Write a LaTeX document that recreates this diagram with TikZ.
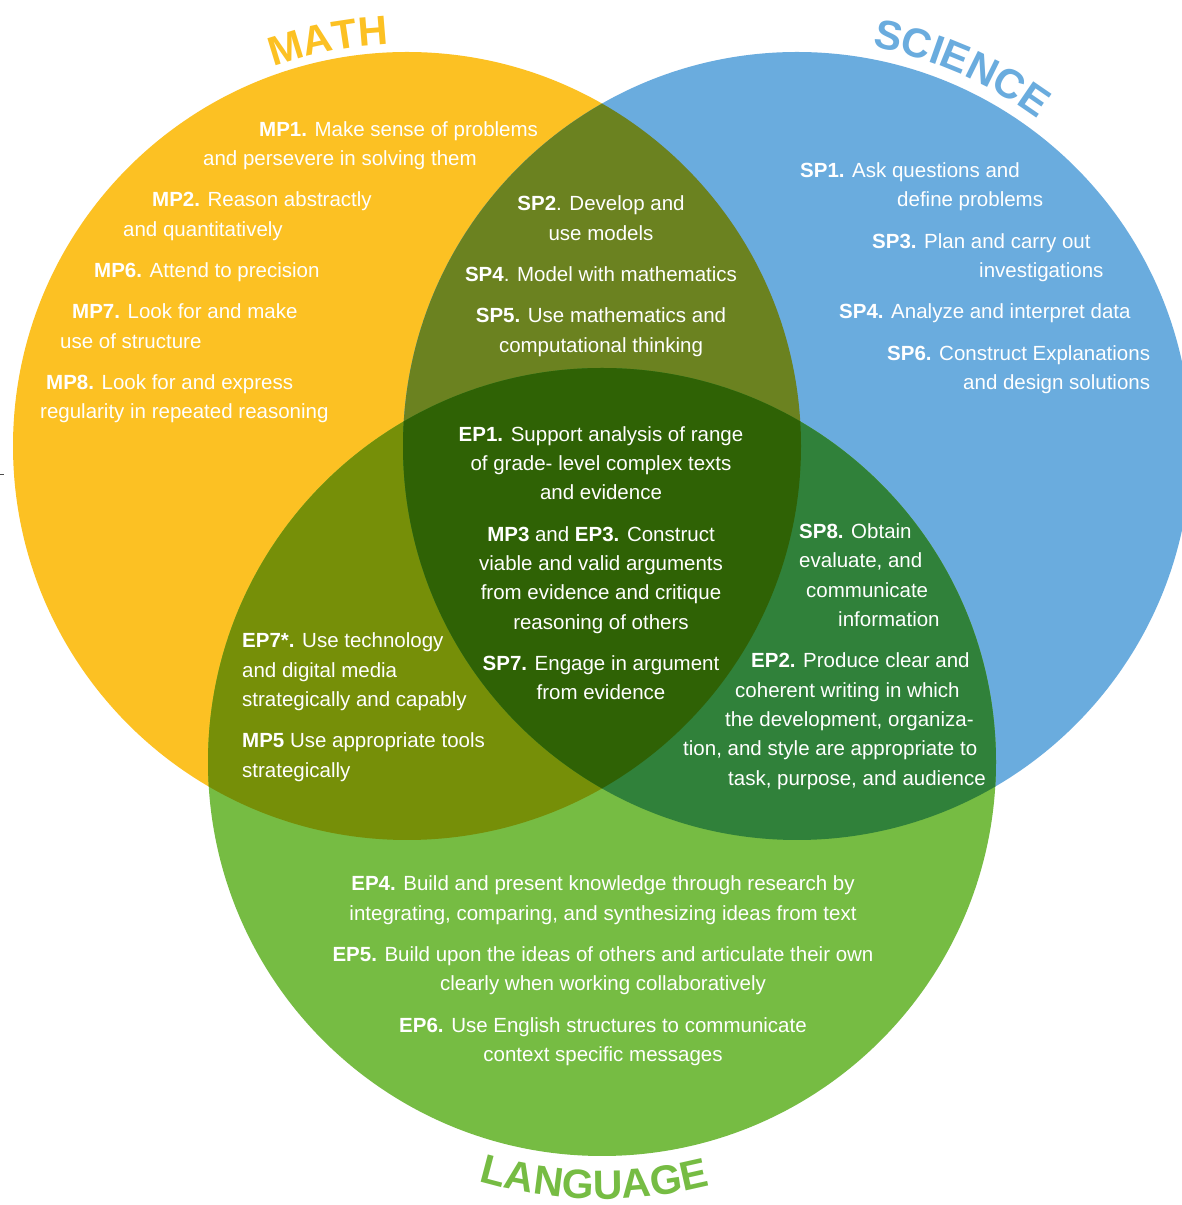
\documentclass[tikz,border=0pt]{standalone}
\usepackage{fontspec}
\setmainfont{Liberation Sans}
\usetikzlibrary{calc,decorations.text}
\definecolor{mathc}{HTML}{FCC123}
\definecolor{scic}{HTML}{6AACDE}
\definecolor{langc}{HTML}{76BC43}
\definecolor{msc}{HTML}{6B8220}
\definecolor{mlc}{HTML}{768F08}
\definecolor{slc}{HTML}{30813A}
\definecolor{mslc}{HTML}{2F6205}
\newcommand\vbody{\fontsize{20.5}{24}\selectfont}
\newcommand\vtitle{\fontsize{41}{41}\selectfont\bfseries}
\begin{document}
\begin{tikzpicture}[x=1pt,y=1pt,
  txt/.style={text=white,font=\vbody,inner sep=0pt},
  lft/.style={txt,anchor=base west},
  ctr/.style={txt,anchor=base}]
\clip (0,0) rectangle (1182,1205);
\fill[white] (0,0) rectangle (1182,1205);
\coordinate (mc) at (407,759);
\coordinate (sc) at (797,759);
\coordinate (lc) at (602,443);
\fill[mathc] (mc) circle[radius=394pt];
\fill[scic] (sc) circle[radius=394pt];
\fill[langc] (lc) circle[radius=394pt];
\begin{scope}
  \clip (mc) circle[radius=394pt];
  \fill[msc] (sc) circle[radius=394pt];
  \fill[mlc] (lc) circle[radius=394pt];
\end{scope}
\begin{scope}
  \clip (sc) circle[radius=394pt];
  \fill[slc] (lc) circle[radius=394pt];
\end{scope}
\begin{scope}
  \clip (mc) circle[radius=394pt];
  \clip (sc) circle[radius=394pt];
  \fill[mslc] (lc) circle[radius=394pt];
\end{scope}
\draw[black!70,line width=1pt] (0,730) -- (4,730);
% titles
\path[decorate,decoration={text along path,text align=center,text={|\vtitle\color{mathc}|MATH}}]
  ($(mc)+(125:402pt)$) arc[start angle=125,end angle=77,radius=402pt];
\path[decorate,decoration={text along path,text align=center,text={|\vtitle\color{scic}|SCIENCE}}]
  ($(sc)+(95:406pt)$) arc[start angle=95,end angle=38,radius=406pt];
\path[decorate,decoration={text along path,text align=center,text={|\vtitle\color{langc}|LANGUAGE}}]
  ($(lc)+(240:437pt)$) arc[start angle=240,end angle=298,radius=437pt];
% math
\node[lft] (m1) at (259,1068) {\textbf{MP1.} Make sense of problems};
\node[lft] (m2) at (203,1039) {and persevere in solving them};
\node[lft] (m3) at (152,998) {\textbf{MP2.} Reason abstractly};
\node[lft] (m4) at (123,968) {and quantitatively};
\node[lft] (m5) at (94,927) {\textbf{MP6.} Attend to precision};
\node[lft] (m6) at (72,886) {\textbf{MP7.} Look for and make};
\node[lft] (m7) at (60,856) {use of structure};
\node[lft] (m8) at (46,815) {\textbf{MP8.} Look for and express};
\node[lft] (m9) at (40,786) {regularity in repeated reasoning};
% math & science
\node[ctr] (ms1) at (601,994) {\textbf{SP2}. Develop and};
\node[ctr] (ms2) at (601,964) {use models};
\node[ctr] (ms3) at (601,923) {\textbf{SP4}. Model with mathematics};
\node[ctr] (ms4) at (601,882) {\textbf{SP5.} Use mathematics and};
\node[ctr] (ms5) at (601,852) {computational thinking};
% science
\node[lft] (s1) at (800,1027) {\textbf{SP1.} Ask questions and};
\node[lft] (s2) at (897,998) {define problems};
\node[lft] (s3) at (872,956) {\textbf{SP3.} Plan and carry out};
\node[lft] (s4) at (979,927) {investigations};
\node[lft] (s5) at (839,886) {\textbf{SP4.} Analyze and interpret data};
\node[lft] (s6) at (887,844) {\textbf{SP6.} Construct Explanations};
\node[lft] (s7) at (963,815) {and design solutions};
% centre
\node[ctr] (c1) at (601,763) {\textbf{EP1.} Support analysis of range};
\node[ctr] (c2) at (601,734) {of grade- level complex texts};
\node[ctr] (c3) at (601,705) {and evidence};
\node[ctr] (c4) at (601,663) {\textbf{MP3} and \textbf{EP3.} Construct};
\node[ctr] (c5) at (601,634) {viable and valid arguments};
\node[ctr] (c6) at (601,605) {from evidence and critique};
\node[ctr] (c7) at (601,575) {reasoning of others};
\node[ctr] (c8) at (601,534) {\textbf{SP7.} Engage in argument};
\node[ctr] (c9) at (601,505) {from evidence};
% science & language
\node[lft] (sl1) at (799,666) {\textbf{SP8.} Obtain};
\node[lft] (sl2) at (799,637) {evaluate, and};
\node[lft] (sl3) at (806,607) {communicate};
\node[lft] (sl4) at (838,578) {information};
\node[lft] (sl5) at (751,537) {\textbf{EP2.} Produce clear and};
\node[lft] (sl6) at (735,507) {coherent writing in which};
\node[lft] (sl7) at (725,478) {the development, organiza-};
\node[lft] (sl8) at (683,449) {tion, and style are appropriate to};
\node[lft] (sl9) at (728,419) {task, purpose, and audience};
% math & language
\node[lft] (ml1) at (242,557) {\textbf{EP7*.} Use technology};
\node[lft] (ml2) at (242,527) {and digital media};
\node[lft] (ml3) at (242,498) {strategically and capably};
\node[lft] (ml4) at (242,457) {\textbf{MP5} Use appropriate tools};
\node[lft] (ml5) at (242,427) {strategically};
% language
\node[ctr] (l1) at (603,314) {\textbf{EP4.} Build and present knowledge through research by};
\node[ctr] (l2) at (603,284) {integrating, comparing, and synthesizing ideas from text};
\node[ctr] (l3) at (603,243) {\textbf{EP5.} Build upon the ideas of others and articulate their own};
\node[ctr] (l4) at (603,214) {clearly when working collaboratively};
\node[ctr] (l5) at (603,172) {\textbf{EP6.} Use English structures to communicate};
\node[ctr] (l6) at (603,143) {context specific messages};
\end{tikzpicture}
\end{document}
